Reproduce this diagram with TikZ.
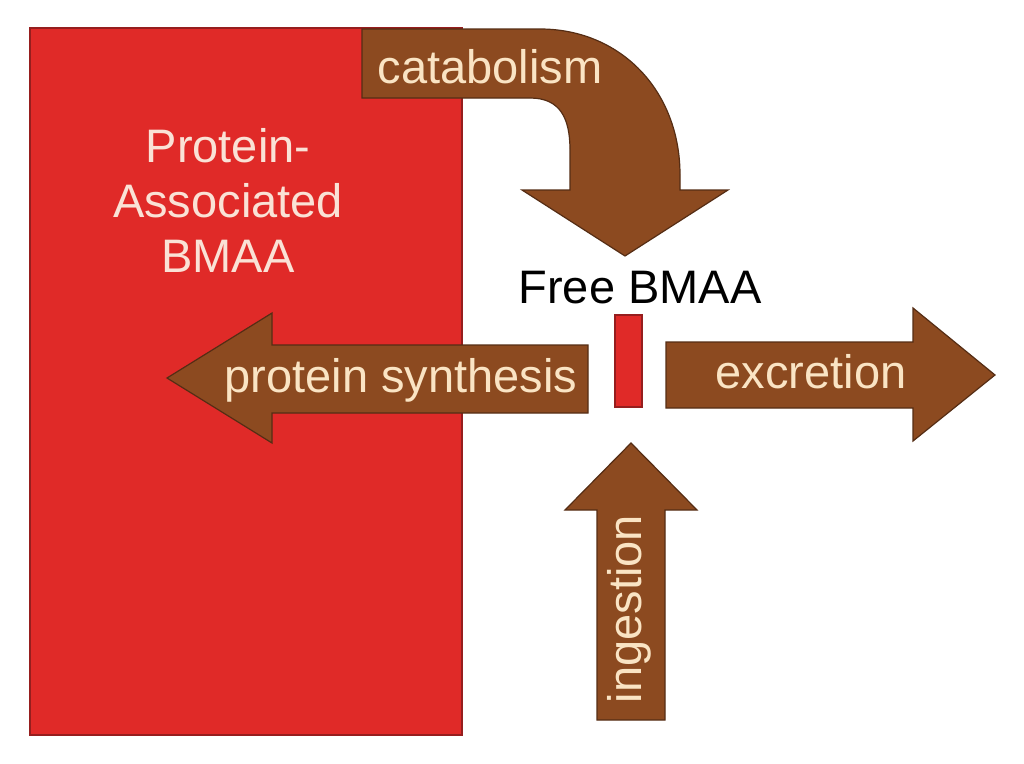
\documentclass[tikz,border=0pt]{standalone}
\usepackage{fontspec}
\setmainfont{Liberation Sans}
\usetikzlibrary{calc}
\definecolor{poolred}{RGB}{224,42,40}
\definecolor{pooledge}{RGB}{150,30,30}
\definecolor{flowbrown}{RGB}{140,74,32}
\definecolor{flowedge}{RGB}{85,45,20}
\definecolor{flowtext}{RGB}{250,228,196}
\definecolor{pooltext}{RGB}{250,226,214}
\tikzset{
  flow/.style={fill=flowbrown,draw=flowedge,line width=1.2pt,line join=miter},
  pool/.style={fill=poolred,draw=pooledge,line width=1.5pt},
  flowlabel/.style={text=flowtext,inner sep=0pt,font=\fontsize{47}{55}\selectfont},
}
\begin{document}
\begin{tikzpicture}[x=1pt,y=-1pt]
      \useasboundingbox (0,0) rectangle (1024,763);
      \begin{scope}
        % protein-associated pool
        \draw[pool](30,28)rectangle(462,735);
        \node[text=pooltext,inner sep=0pt,align=center,font=\fontsize{47}{55}\selectfont](bound)at(228,200){Protein-\\Associated\\BMAA};
        % free pool
        \draw[pool,line width=1.2pt](615,315)rectangle(642,407);
        \node[inner sep=0pt,anchor=base,font=\fontsize{47}{55}\selectfont](free)at(640,303){Free BMAA};
      \end{scope}
      \begin{scope}
        % catabolism
        \coordinate(A)at(362,29);
        \coordinate(B)at(540,29);
        \coordinate(C)at(680,190);
        \coordinate(D)at(570,190);
        \coordinate(E)at(530,98);
        \draw[flow](A)--(B).. controls (620,29) and (680,90) ..(680,175)--(C)--(728,190)--(625,256)--(522,190)--(D)--(570,150).. controls (570,118) and (560,98) ..(E)--(362,98)--cycle;
        \node[flowlabel,anchor=base](cat)at(490,83){catabolism};
        % protein synthesis
        \draw[flow](588,345)--(272,345)--(272,313)--(167,378)--(272,443)--(272,413)--(588,413)--cycle;
        \node[flowlabel,anchor=base](syn)at(401,392){protein synthesis};
        % excretion
        \draw[flow](666,342)--(913,342)--(913,308)--(995,375)--(913,441)--(913,408)--(666,408)--cycle;
        \node[flowlabel,anchor=base](exc)at(811,388){excretion};
        % ingestion
        \draw[flow](597,720)--(597,510)--(565,510)--(631,443)--(697,510)--(665,510)--(665,720)--cycle;
        \node[flowlabel,anchor=base,rotate=90](ing)at(641,609){ingestion};
      \end{scope}
    \end{tikzpicture}
\end{document}
